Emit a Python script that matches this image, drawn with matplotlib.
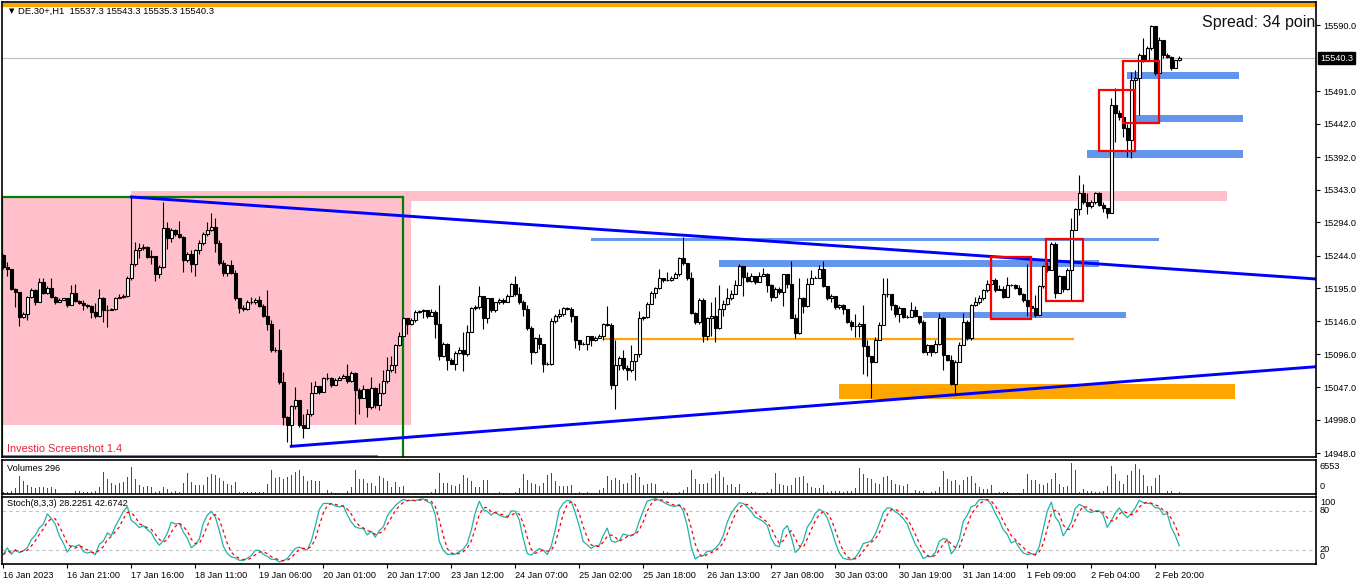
import numpy as np
import pandas as pd
import matplotlib
matplotlib.use('Agg')
import matplotlib.pyplot as plt
from matplotlib.patches import Rectangle

# DE.30+ H1 candles, 16 Jan - 2 Feb 2023
first_open = 15245
closes = [
    15227, 15224, 15194, 15190, 15152, 15157, 15182, 15192, 15174, 15204,
    15188, 15196, 15182, 15174, 15178, 15180, 15170, 15188, 15176, 15173,
    15170, 15168, 15160, 15153, 15181, 15163, 15163, 15164, 15180, 15182,
    15184, 15210, 15231, 15253, 15256, 15257, 15242, 15243, 15216, 15227,
    15286, 15270, 15283, 15277, 15272, 15237, 15247, 15231, 15252, 15263,
    15277, 15282, 15287, 15263, 15233, 15218, 15230, 15218, 15181, 15166,
    15164, 15174, 15174, 15178, 15168, 15153, 15142, 15102, 15102, 15054,
    15002, 14990, 15018, 15027, 14990, 14986, 15006, 15038, 15048, 15040,
    15060, 15061, 15050, 15058, 15061, 15064, 15056, 15068, 15043, 15031,
    15044, 15017, 15046, 15020, 15038, 15056, 15072, 15080, 15110, 15124,
    15150, 15142, 15147, 15160, 15161, 15162, 15153, 15160, 15142, 15094,
    15111, 15088, 15082, 15098, 15103, 15096, 15130, 15166, 15167, 15184,
    15150, 15180, 15162, 15174, 15177, 15174, 15183, 15202, 15187, 15174,
    15164, 15136, 15100, 15120, 15111, 15081, 15081, 15146, 15154, 15156,
    15166, 15164, 15154, 15118, 15111, 15112, 15123, 15117, 15120, 15124,
    15141, 15140, 15050, 15080, 15091, 15076, 15072, 15086, 15096, 15151,
    15152, 15172, 15188, 15196, 15210, 15208, 15207, 15210, 15217, 15240,
    15233, 15210, 15158, 15144, 15178, 15123, 15150, 15154, 15136, 15164,
    15172, 15180, 15187, 15200, 15228, 15212, 15206, 15213, 15204, 15213,
    15217, 15200, 15182, 15194, 15190, 15216, 15201, 15151, 15128, 15181,
    15168, 15202, 15211, 15211, 15224, 15198, 15180, 15184, 15167, 15170,
    15164, 15144, 15138, 15138, 15142, 15108, 15094, 15084, 15118, 15140,
    15186, 15186, 15170, 15157, 15165, 15152, 15152, 15163, 15153, 15145,
    15100, 15110, 15100, 15112, 15150, 15095, 15088, 15052, 15085, 15110,
    15145, 15120, 15170, 15175, 15180, 15192, 15202, 15208, 15192, 15194,
    15182, 15200, 15200, 15196, 15186, 15178, 15168, 15165, 15155, 15198,
    15228, 15222, 15262, 15188, 15214, 15194, 15222, 15282, 15314, 15338,
    15324, 15318, 15325, 15338, 15320, 15315, 15308, 15470, 15458, 15452,
    15435, 15418, 15508, 15510, 15545, 15536, 15555, 15588, 15518, 15568,
    15545, 15542, 15526, 15538, 15540.3]
highs = [
    15247, 15234, 15220, 15196, 15190, 15160, 15183, 15196, 15194, 15211,
    15210, 15198, 15210, 15184, 15180, 15181, 15181, 15200, 15201, 15178,
    15177, 15172, 15170, 15173, 15194, 15182, 15170, 15166, 15182, 15187,
    15186, 15214, 15332, 15264, 15263, 15262, 15258, 15252, 15220, 15230,
    15324, 15294, 15286, 15284, 15296, 15273, 15250, 15252, 15254, 15267,
    15280, 15294, 15308, 15300, 15267, 15237, 15231, 15237, 15222, 15167,
    15170, 15177, 15182, 15181, 15183, 15172, 15192, 15147, 15107, 15134,
    15070, 15004, 15020, 15047, 15028, 15006, 15014, 15054, 15056, 15048,
    15062, 15068, 15062, 15060, 15063, 15067, 15082, 15071, 15070, 15046,
    15050, 15043, 15062, 15047, 15053, 15073, 15092, 15094, 15112, 15130,
    15152, 15147, 15150, 15162, 15163, 15164, 15162, 15164, 15162, 15200,
    15114, 15113, 15090, 15101, 15107, 15130, 15140, 15167, 15170, 15198,
    15184, 15181, 15170, 15174, 15181, 15180, 15186, 15203, 15213, 15197,
    15177, 15170, 15138, 15122, 15126, 15112, 15084, 15151, 15156, 15164,
    15167, 15167, 15167, 15138, 15117, 15114, 15124, 15124, 15124, 15126,
    15143, 15168, 15143, 15117, 15093, 15102, 15080, 15110, 15097, 15161,
    15154, 15174, 15191, 15197, 15224, 15211, 15219, 15213, 15220, 15242,
    15272, 15233, 15220, 15160, 15180, 15180, 15152, 15174, 15182, 15200,
    15177, 15196, 15193, 15207, 15231, 15228, 15220, 15218, 15214, 15220,
    15226, 15218, 15201, 15197, 15197, 15217, 15211, 15236, 15156, 15210,
    15182, 15211, 15222, 15214, 15230, 15236, 15198, 15186, 15179, 15172,
    15172, 15164, 15147, 15157, 15144, 15170, 15118, 15094, 15122, 15144,
    15210, 15210, 15176, 15172, 15168, 15165, 15155, 15175, 15168, 15148,
    15148, 15112, 15110, 15118, 15158, 15152, 15095, 15095, 15088, 15115,
    15158, 15148, 15172, 15182, 15185, 15194, 15208, 15242, 15210, 15200,
    15198, 15212, 15202, 15202, 15200, 15188, 15232, 15180, 15185, 15200,
    15230, 15235, 15264, 15264, 15215, 15214, 15225, 15300, 15315, 15365,
    15352, 15338, 15328, 15340, 15340, 15325, 15316, 15480, 15495, 15462,
    15445, 15442, 15520, 15522, 15548, 15570, 15558, 15590, 15588, 15572,
    15548, 15548, 15544, 15538, 15543.3]
lows = [
    15224, 15214, 15192, 15167, 15138, 15150, 15147, 15180, 15170, 15174,
    15187, 15187, 15180, 15172, 15174, 15178, 15167, 15181, 15174, 15171,
    15163, 15166, 15150, 15150, 15152, 15144, 15137, 15162, 15162, 15180,
    15181, 15182, 15208, 15228, 15241, 15253, 15241, 15231, 15206, 15211,
    15226, 15254, 15264, 15274, 15270, 15220, 15234, 15220, 15214, 15247,
    15260, 15274, 15281, 15250, 15230, 15213, 15214, 15216, 15178, 15158,
    15161, 15162, 15172, 15172, 15167, 15152, 15132, 15100, 15100, 15052,
    14990, 14964, 14958, 15014, 14987, 14971, 14986, 15004, 15038, 15037,
    15051, 15057, 15047, 15050, 15057, 15060, 15053, 15054, 14992, 15006,
    15030, 15002, 15014, 15016, 15012, 15036, 15053, 15070, 15068, 15108,
    15124, 15127, 15140, 15144, 15158, 15150, 15150, 15153, 15120, 15087,
    15092, 15072, 15081, 15072, 15097, 15071, 15094, 15132, 15163, 15164,
    15134, 15143, 15160, 15160, 15172, 15172, 15174, 15184, 15184, 15172,
    15153, 15133, 15081, 15098, 15104, 15070, 15080, 15080, 15143, 15150,
    15153, 15162, 15144, 15106, 15103, 15110, 15103, 15108, 15116, 15120,
    15118, 15138, 15044, 15014, 15072, 15072, 15058, 15070, 15058, 15092,
    15148, 15150, 15172, 15181, 15194, 15204, 15206, 15206, 15210, 15213,
    15230, 15207, 15156, 15142, 15142, 15114, 15117, 15124, 15114, 15134,
    15154, 15170, 15177, 15187, 15200, 15184, 15204, 15204, 15202, 15204,
    15213, 15190, 15176, 15181, 15187, 15168, 15196, 15150, 15120, 15127,
    15158, 15167, 15201, 15210, 15210, 15197, 15177, 15174, 15164, 15164,
    15157, 15143, 15132, 15122, 15122, 15067, 15064, 15030, 15084, 15117,
    15140, 15182, 15162, 15152, 15145, 15150, 15150, 15158, 15152, 15142,
    15098, 15095, 15094, 15098, 15110, 15072, 15086, 15050, 15035, 15085,
    15110, 15118, 15118, 15168, 15172, 15178, 15190, 15200, 15190, 15192,
    15180, 15182, 15198, 15194, 15185, 15175, 15154, 15162, 15152, 15155,
    15195, 15220, 15222, 15180, 15188, 15190, 15192, 15178, 15282, 15305,
    15322, 15306, 15315, 15322, 15318, 15310, 15300, 15308, 15415, 15448,
    15422, 15392, 15390, 15472, 15455, 15535, 15538, 15552, 15515, 15518,
    15540, 15540, 15522, 15525, 15535.3]
volumes = [
    396, 462, 660, 1056, 3366, 2376, 1716, 1386, 1188, 1386,
    1386, 1188, 1386, 858, 66, 66, 264, 264, 660, 660,
    396, 330, 462, 480, 1254, 4224, 2838, 2178, 1650, 2178,
    2244, 3234, 5214, 2772, 1716, 1320, 1452, 1386, 330, 528,
    1386, 990, 462, 594, 462, 2046, 3960, 2244, 1782, 1782,
    1716, 3168, 3762, 3564, 3036, 2376, 1914, 1782, 2244, 330,
    396, 396, 396, 396, 396, 396, 1980, 4554, 2970, 3168,
    2838, 3168, 3564, 4158, 4554, 3366, 2376, 2706, 2376, 2400,
    66, 792, 330, 264, 264, 264, 528, 1254, 4554, 2772,
    2772, 2178, 2112, 1584, 3366, 2970, 2376, 1386, 2244, 1386,
    1584, 66, 66, 198, 66, 198, 198, 396, 990, 3960,
    2178, 2178, 1782, 1584, 1980, 3564, 2970, 2376, 1386, 1400,
    2574, 2600, 66, 198, 396, 198, 198, 198, 396, 1188,
    3762, 2574, 2178, 1980, 1584, 2178, 3564, 3960, 2376, 1584,
    1584, 1584, 1782, 198, 396, 198, 396, 198, 198, 792,
    1188, 3366, 2574, 2970, 2574, 1980, 2000, 3564, 3960, 3168,
    1782, 1980, 2178, 1980, 198, 594, 396, 198, 198, 396,
    792, 1386, 4554, 2772, 1980, 1980, 2178, 2970, 3762, 4356,
    3168, 1782, 1980, 1386, 1980, 198, 396, 396, 420, 198,
    198, 396, 990, 3960, 1980, 1782, 1584, 1782, 2970, 3168,
    3366, 2178, 1386, 1188, 1210, 1782, 396, 594, 594, 610,
    396, 594, 594, 1188, 4950, 3762, 2970, 2772, 2178, 1980,
    3168, 3366, 2574, 1980, 1782, 1584, 1980, 198, 792, 594,
    610, 198, 396, 594, 1386, 4356, 2772, 2376, 2574, 1782,
    2574, 3168, 3366, 2178, 1386, 990, 1010, 1782, 198, 396,
    420, 396, 198, 198, 198, 990, 3762, 2574, 2574, 1980,
    1782, 2178, 2772, 3960, 1980, 1386, 1584, 5940, 4554, 396,
    990, 594, 594, 396, 396, 594, 1584, 5346, 3762, 2376,
    1980, 3564, 4356, 5742, 4752, 3564, 1584, 1584, 2970, 3564,
    198, 594, 594, 198, 296]

date_labels = ['16 Jan 2023', '16 Jan 21:00', '17 Jan 16:00', '18 Jan 11:00',
               '19 Jan 06:00', '20 Jan 01:00', '20 Jan 17:00', '23 Jan 12:00',
               '24 Jan 07:00', '25 Jan 02:00', '25 Jan 18:00', '26 Jan 13:00',
               '27 Jan 08:00', '30 Jan 03:00', '30 Jan 19:00', '31 Jan 14:00',
               '1 Feb 09:00', '2 Feb 04:00', '2 Feb 20:00']
price_ticks = [15590.0, 15491.0, 15442.0, 15392.0, 15343.0, 15294.0, 15244.0,
               15195.0, 15146.0, 15096.0, 15047.0, 14998.0, 14948.0]
last_price = 15540.3

# drawn objects: (from bar, to bar, low price, high price)
blue_zones = [(146.9, 288.9, 15266.5, 15270.0),
              (178.9, 273.9, 15227.5, 15237.5),
              (230.0, 280.8, 15151.0, 15159.0),
              (270.9, 309.9, 15391.0, 15402.5),
              (283.0, 309.9, 15445.0, 15455.0),
              (281.0, 309.0, 15509.0, 15520.0)]
pink_zone = (31.9, 305.9, 15326.0, 15341.0)
pink_box = (-0.4, 101.9, 14990.0, 15332.0)
green_box = (-0.4, 100.0, 14900.0, 15332.5)
orange_zone = (208.9, 307.9, 15029.0, 15051.5)
orange_level = (149.9, 267.8, 15119.0)
top_level = 15620.0
base_level = (-0.4, 93.7, 14944.0)
red_boxes = [(246.9, 257.0, 15149.0, 15242.5),
             (260.8, 269.9, 15176.0, 15269.0),
             (273.9, 283.0, 15401.0, 15492.5),
             (280.0, 288.9, 15443.5, 15536.5)]
upper_trend = ([32, 328.3], [15332.0, 15209.0])
lower_trend = ([72, 328.3], [14958.0, 15077.5])

closes = np.array(closes)
highs = np.array(highs)
lows = np.array(lows)
volumes = np.array(volumes)
bars = np.arange(len(closes))
opens = np.r_[first_open, closes[:-1]]
highs = np.maximum(highs, np.maximum(opens, closes))
lows = np.minimum(lows, np.minimum(opens, closes))

# Stochastic(8,3,3) from the candles
hh = pd.Series(highs).rolling(8, min_periods=1).max()
ll = pd.Series(lows).rolling(8, min_periods=1).min()
num = (pd.Series(closes) - ll).rolling(3, min_periods=1).sum()
den = (hh - ll).rolling(3, min_periods=1).sum()
stoch_k = 100 * num / den
stoch_d = stoch_k.rolling(3, min_periods=1).mean()

plt.rcParams['font.family'] = ['Liberation Sans', 'DejaVu Sans']
W, H = 1362, 585
fig = plt.figure(figsize=(W / 100, H / 100), dpi=100)
fig.patch.set_facecolor('white')


def box(x0, x1, y0, y1):
    return [x0 / W, 1 - y1 / H, (x1 - x0) / W, (y1 - y0) / H]


ax = fig.add_axes(box(2, 1316, 2, 457))
axv = fig.add_axes(box(2, 1316, 459.5, 494), sharex=ax)
axs = fig.add_axes(box(2, 1316, 496.5, 564), sharex=ax)

for a in (ax, axv, axs):
    for sp in a.spines.values():
        sp.set_linewidth(1.2)
        sp.set_color('black')

# --- main panel objects ---
def zone(a, x0, x1, y0, y1, color, z=1):
    a.add_patch(Rectangle((x0, y0), x1 - x0, y1 - y0, facecolor=color,
                          edgecolor='none', zorder=z))


zone(ax, pink_box[0], pink_box[1], pink_box[2], pink_box[3], '#FFC0CB')
zone(ax, pink_zone[0], pink_zone[1], pink_zone[2], pink_zone[3], '#FFC0CB')
zone(ax, orange_zone[0], orange_zone[1], orange_zone[2], orange_zone[3], '#FFA500')
for z in blue_zones:
    zone(ax, z[0], z[1], z[2], z[3], '#6495ED')
ax.hlines(orange_level[2], orange_level[0], orange_level[1], color='#FFA500', lw=1.6, zorder=1)
ax.hlines(base_level[2], base_level[0], base_level[1], color='#4169E1', lw=1.2, zorder=1)
ax.axhline(top_level, color='#FFA500', lw=3, zorder=1)
ax.axhline(last_price, color='#C0C0C0', lw=0.9, zorder=1)
ax.add_patch(Rectangle((green_box[0], green_box[2]), green_box[1] - green_box[0],
                       green_box[3] - green_box[2], fill=False, edgecolor='#008000',
                       lw=1.6, zorder=2))
ax.plot(upper_trend[0], upper_trend[1], color='#0000FF', lw=2.1, zorder=2)
ax.plot(lower_trend[0], lower_trend[1], color='#0000FF', lw=2.1, zorder=2)

# candles
up = closes >= opens
body_lo = np.minimum(opens, closes)
body_h = np.abs(closes - opens)
ax.vlines(bars, lows, highs, color='black', lw=0.8, zorder=3)
ax.bar(bars[up], body_h[up], bottom=body_lo[up], width=0.68, facecolor='white',
       edgecolor='black', lw=0.8, zorder=4)
ax.bar(bars[~up], body_h[~up], bottom=body_lo[~up], width=0.68, facecolor='black',
       edgecolor='black', lw=0.8, zorder=4)

for r in red_boxes:
    ax.add_patch(Rectangle((r[0], r[2]), r[1] - r[0], r[3] - r[2], fill=False,
                           edgecolor='#FF0000', lw=1.6, zorder=5))

ax.set_xlim(-0.33, 328.2)
ax.set_ylim(14942, 15624.5)
ax.yaxis.tick_right()
ax.set_yticks(price_ticks)
ax.set_yticklabels([f'{v:.1f}' for v in price_ticks])
ax.tick_params(axis='y', labelsize=6.6, length=3, width=0.8, pad=2)
ax.tick_params(axis='x', bottom=False, labelbottom=False)
ax.annotate(f'{last_price:.1f}', xy=(1, last_price), xycoords=ax.get_yaxis_transform(),
            xytext=(3, 0), textcoords='offset points', ha='left', va='center',
            fontsize=6.6, color='white', annotation_clip=False,
            bbox=dict(boxstyle='square,pad=0.2', fc='black', ec='black'))

ax.text(0.0055, 0.9805, '\u25bc', transform=ax.transAxes, fontsize=5,
        family='DejaVu Sans', va='center', ha='left')
ax.text(0.012, 0.9805, 'DE.30+,H1  15537.3 15543.3 15535.3 15540.3',
        transform=ax.transAxes, fontsize=6.8, va='center', ha='left')
# the spread label is cut by the chart edge in the original
ax.text(0.9995, 0.956, 'Spread: 34 poin', transform=ax.transAxes, fontsize=11.5,
        color='#111111', va='center', ha='right')
ax.text(0.004, 0.0176, 'Investio Screenshot 1.4', transform=ax.transAxes,
        fontsize=7.9, color='#E8203A', va='center', ha='left')

# --- volumes ---
vol_up = np.r_[True, volumes[1:] > volumes[:-1]]
axv.vlines(bars[vol_up], 0, volumes[vol_up], color='#008000', lw=0.72, antialiased=False)
axv.vlines(bars[~vol_up], 0, volumes[~vol_up], color='#FF0000', lw=0.72, antialiased=False)
axv.set_ylim(0, 6553)
axv.set_yticks([])
axv.tick_params(axis='x', bottom=False, labelbottom=False)
axv.text(0.004, 0.733, 'Volumes 296', transform=axv.transAxes, fontsize=6.6,
         va='center', ha='left')
axv.text(1.003, 0.79, '6553', transform=axv.transAxes, fontsize=6.6,
         va='center', ha='left')
axv.text(1.003, 0.21, '0', transform=axv.transAxes, fontsize=6.6,
         va='center', ha='left')

# --- stochastic ---
axs.axhline(80, color='#C0C0C0', lw=0.8, ls=(0, (3, 3)))
axs.axhline(20, color='#C0C0C0', lw=0.8, ls=(0, (3, 3)))
axs.plot(bars, stoch_k, color='#20B2AA', lw=0.9)
axs.plot(bars, stoch_d, color='#FF0000', lw=0.9, ls=(0, (2.5, 2.5)))
axs.set_ylim(-1.4, 101.7)
axs.set_yticks([])
st = axs.get_yaxis_transform()
for val, pos in [('100', 92.8), ('80', 80), ('20', 20), ('0', 9.8)]:
    axs.text(1.003, pos, val, transform=st, fontsize=6.6, va='center', ha='left')
axs.text(0.004, 0.889, 'Stoch(8,3,3) 28.2251 42.6742', transform=axs.transAxes,
         fontsize=6.6, va='center', ha='left')
axs.set_xticks(np.arange(len(date_labels)) * 16)
axs.set_xticklabels(date_labels, ha='left')
axs.tick_params(axis='x', labelsize=6.6, length=3, width=0.8, pad=2)

fig.savefig('out.png', dpi=100, facecolor='white')
